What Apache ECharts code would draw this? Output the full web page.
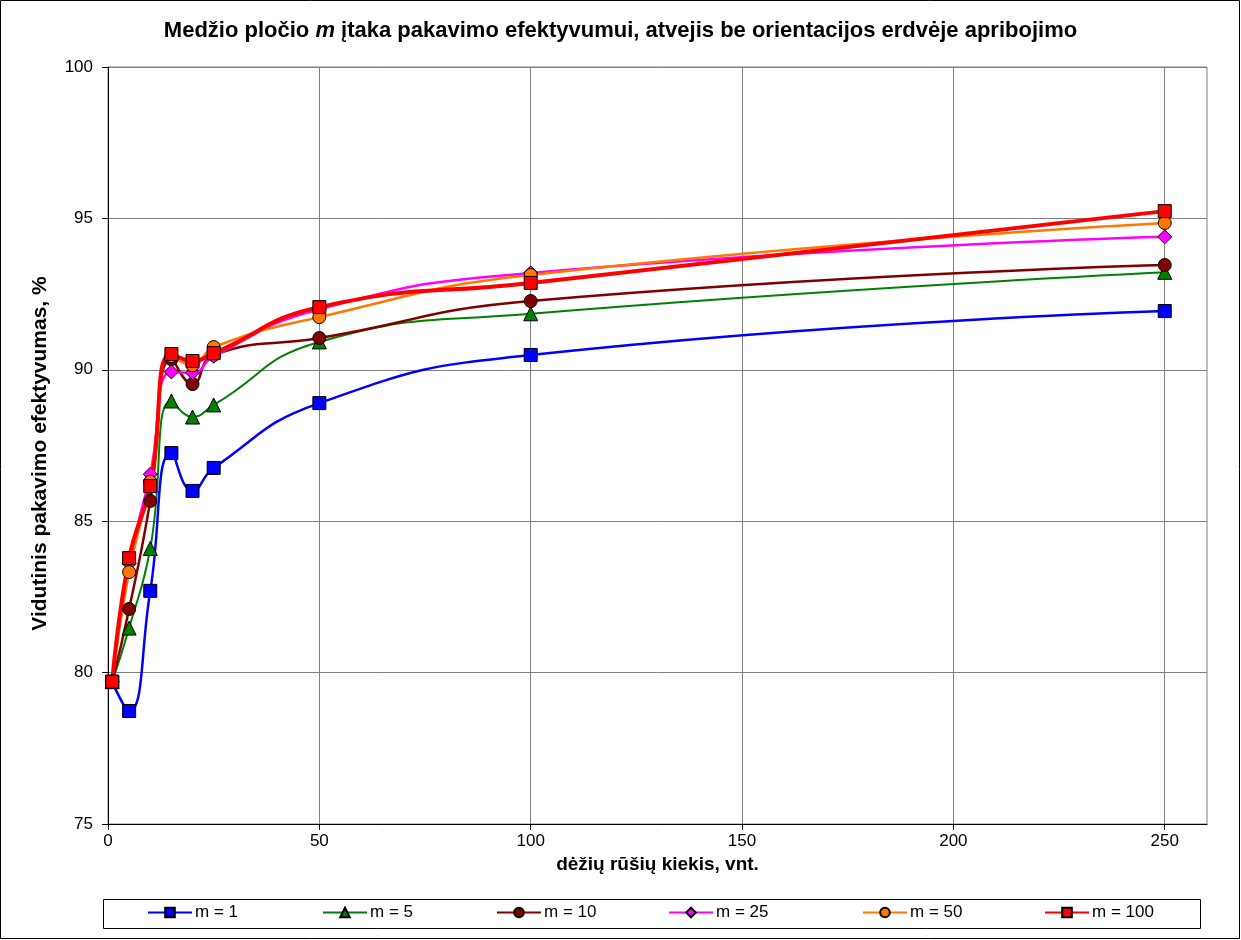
<!DOCTYPE html>
<html>
<head>
<meta charset="utf-8">
<script src="https://cdn.jsdelivr.net/npm/echarts@6/dist/echarts.min.js"></script>
<style>
  html, body { margin: 0; padding: 0; background: #fff; }
  #chart { width: 1241px; height: 940px; }
</style>
</head>
<body>
<div id="chart"></div>
<script>
// dėžių rūšių kiekis (x)
const xValues = [1, 5, 10, 15, 20, 25, 50, 100, 250];

// vidutinis pakavimo efektyvumas, % pagal m
const m1 = [79.7, 78.73, 82.7, 87.25, 86.0, 86.76, 88.9, 90.49, 91.94];
const m5 = [79.7, 81.47, 84.1, 88.97, 88.44, 88.84, 90.92, 91.85, 93.22];
const m10 = [79.7, 82.1, 85.67, 90.35, 89.53, 90.49, 91.05, 92.27, 93.46];
const m25 = [79.7, 83.6, 86.55, 89.93, 89.9, 90.45, 92.0, 93.2, 94.39];
const m50 = [79.7, 83.32, 86.3, 90.45, 90.15, 90.75, 91.74, 93.13, 94.85];
const m100 = [79.7, 83.78, 86.16, 90.52, 90.29, 90.55, 92.07, 92.87, 95.24];

const seriesNames = ['m = 1', 'm = 5', 'm = 10', 'm = 25', 'm = 50', 'm = 100'];
const xTicks = [0, 50, 100, 150, 200, 250];

const font = '"Liberation Sans", Arial, sans-serif';
const pairs = (ys) => xValues.map((x, i) => [x, ys[i]]);

const chart = echarts.init(document.getElementById('chart'));

function line(name, ys, color, width, symbol, size) {
    return {
        name: name,
        type: 'line',
        data: pairs(ys),
        smooth: true,
        symbol: symbol,
        symbolSize: size,
        showAllSymbol: true,
        lineStyle: { color: color, width: width },
        itemStyle: { color: color, borderColor: '#000', borderWidth: 1, opacity: 1 },
        emphasis: { disabled: true },
        animation: false
    };
}

// legenda: kiekvienas įrašas atskirai, kaip Excel'io langelyje
const legendLeft = [147, 322, 496, 668, 862, 1044];
const legends = seriesNames.map((name, i) => ({
    data: [name],
    left: legendLeft[i],
    top: 904,
    itemWidth: 44,
    itemHeight: 12,
    itemGap: 0,
    padding: 0,
    textStyle: { fontFamily: font, fontSize: 17, color: '#000', padding: [0, 0, 0, -2] }
}));

const option = {
    animation: false,
    textStyle: { fontFamily: font, color: '#000' },
    title: {
        text: 'Medžio pločio {i|m} įtaka pakavimo efektyvumui, atvejis be orientacijos erdvėje apribojimo',
        left: 'center',
        top: 15,
        textStyle: {
            fontFamily: font,
            fontSize: 22,
            fontWeight: 'bold',
            color: '#000',
            rich: {
                i: { fontFamily: font, fontSize: 22, fontWeight: 'bold', fontStyle: 'italic', color: '#000' }
            }
        }
    },
    graphic: [{
        type: 'rect',
        shape: { x: 0.5, y: 0.5, width: 1239, height: 938 },
        style: { fill: null, stroke: '#000', lineWidth: 1 },
        silent: true
    }, {
        type: 'rect',
        shape: { x: 103.5, y: 899.5, width: 1097, height: 29 },
        style: { fill: '#fff', stroke: '#000', lineWidth: 1 },
        silent: true,
        z: -1
    }],
    grid: {
        left: 108, top: 67, right: 34, bottom: 116,
        show: true, borderColor: '#808080', borderWidth: 1,
        backgroundColor: '#fff'
    },
    legend: legends,
    xAxis: {
        type: 'value',
        min: 0,
        max: 260,
        interval: 50,
        name: 'dėžių rūšių kiekis, vnt.',
        nameLocation: 'middle',
        nameGap: 24,
        nameTextStyle: { fontFamily: font, fontSize: 19, fontWeight: 'bold', color: '#000' },
        axisLine: { show: true, onZero: false, lineStyle: { color: '#000', width: 1 } },
        axisTick: { show: true, length: 6, inside: false, customValues: xTicks, lineStyle: { color: '#000' } },
        axisLabel: { fontFamily: font, fontSize: 17, color: '#000', margin: 9, customValues: xTicks },
        splitLine: { show: true, lineStyle: { color: '#808080', width: 1 } }
    },
    yAxis: {
        type: 'value',
        min: 75,
        max: 100,
        interval: 5,
        name: 'Vidutinis pakavimo efektyvumas, %',
        nameLocation: 'middle',
        nameGap: 57,
        nameTextStyle: {
            fontFamily: font, fontSize: 21, fontWeight: 'bold', color: '#000',
            padding: [0, 16, 0, 0]
        },
        axisLine: { show: true, lineStyle: { color: '#000', width: 1 } },
        axisTick: { show: true, length: 6, inside: false, lineStyle: { color: '#000' } },
        axisLabel: { fontFamily: font, fontSize: 17, color: '#000', margin: 15 },
        splitLine: { show: true, lineStyle: { color: '#808080', width: 1 } }
    },
    series: [
        line(seriesNames[0], m1, '#0000ff', 2.5, 'rect', 13),
        line(seriesNames[1], m5, '#008000', 2, 'triangle', 14),
        line(seriesNames[2], m10, '#800000', 2.5, 'circle', 13),
        line(seriesNames[3], m25, '#ff00ff', 2.5, 'diamond', 14),
        line(seriesNames[4], m50, '#ff7800', 2.5, 'circle', 13),
        line(seriesNames[5], m100, '#ff0000', 4, 'rect', 13)
    ]
};

chart.setOption(option);
</script>
</body>
</html>
